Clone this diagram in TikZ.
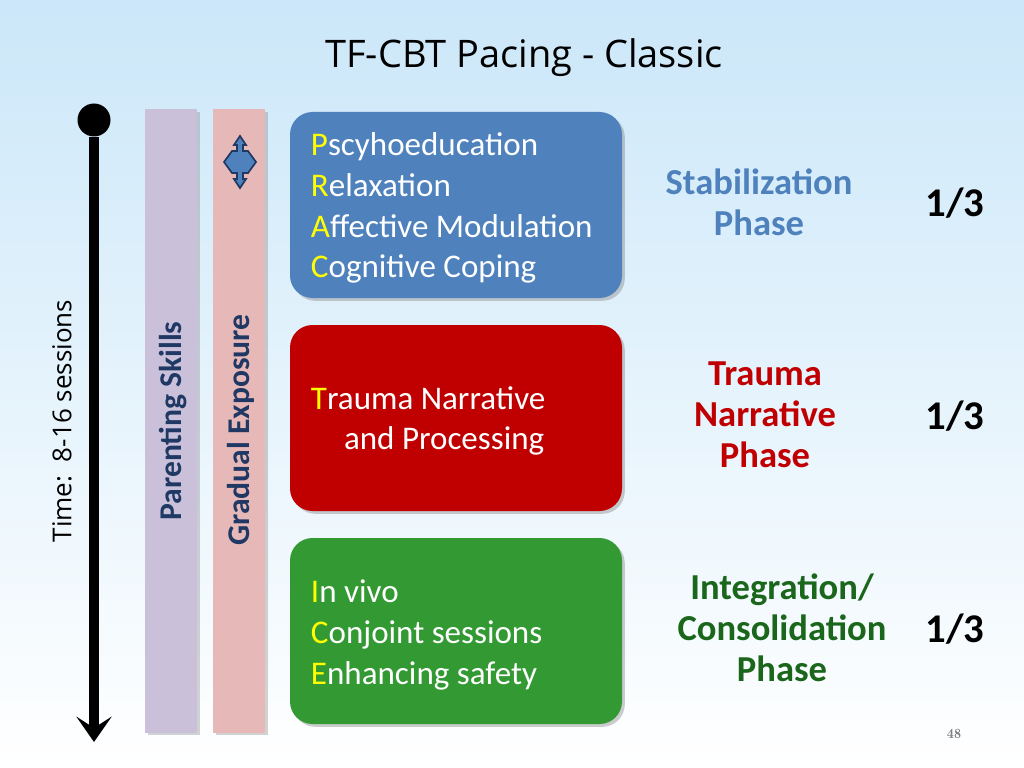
\documentclass[tikz,border=0pt]{standalone}
\usepackage{fontspec}
\setmainfont{Carlito}
\newfontfamily\titlefont{Open Sans}
\usetikzlibrary{arrows.meta,positioning,shadows}
\definecolor{skyblue}{HTML}{CBE7F9}
\definecolor{lilac}{HTML}{CBC0DA}
\definecolor{rose}{HTML}{E6B8B7}
\definecolor{navy}{HTML}{1F3864}
\definecolor{stabblue}{HTML}{4F81BD}
\definecolor{traumared}{HTML}{C00000}
\definecolor{integgreen}{HTML}{339933}
\definecolor{phasegreen}{HTML}{1A661A}
\definecolor{initial}{HTML}{FFFF00}
\tikzset{
	bar/.style={
		rectangle,
		draw=none,
		minimum width=52*0.025cm,
		minimum height=623*0.025cm,
		drop shadow={shadow xshift=2pt,shadow yshift=-2pt,opacity=0.35}
	},
	bartext/.style={
		rotate=90,
		font=\fontsize{22.5}{26}\selectfont\bfseries,
		text=navy
	},
	phasebox/.style={
		rectangle,
		rounded corners=16pt,
		draw=none,
		minimum width=332*0.025cm,
		minimum height=186*0.025cm,
		drop shadow={shadow xshift=2pt,shadow yshift=-2pt,opacity=0.4}
	},
	boxtext/.style={
		anchor=west,
		align=left,
		text=white,
		font=\fontsize{23.5}{29}\selectfont
	},
	phase/.style={
		align=center,
		font=\fontsize{26}{29}\selectfont\bfseries
	},
	share/.style={
		font=\fontsize{29}{32}\selectfont\bfseries
	}
}
\newcommand{\ini}[1]{\textcolor{initial}{#1}}
\begin{document}
\begin{tikzpicture}[x=0.025cm,y=-0.025cm]
% background
\shade[top color=skyblue,bottom color=white] (0,0) rectangle (1024,768);
\useasboundingbox (0,0) rectangle (1024,768);

\node [font=\titlefont\fontsize{27}{32}\selectfont] (title) at (524,58) {TF-CBT Pacing - Classic};

% timeline
\node [circle,fill=black,minimum size=33*0.025cm,inner sep=0pt] (tstart) at (94,120) {};
\coordinate (tend) at (94,742);
\draw [line width=7pt,-{Stealth[length=18pt,width=25pt,inset=8pt]}] (tstart) -- (tend);
\node [rotate=90,font=\titlefont\fontsize{18.5}{22}\selectfont] (time) at (62,421) {Time:\ \ 8-16 sessions};

% side bars
\node [bar,fill=lilac] (parenting) at (171,421) {};
\node [bartext] (parentinglabel) at (173,421) {Parenting Skills};
\node [bar,fill=rose] (exposure) at (239,421) {};
\node [bartext] (exposurelabel) at (241,430) {Gradual Exposure};
\filldraw [fill=stabblue,draw=navy,line width=1.2pt]
	(240,136) -- (246,145) -- (243,145) -- (243,151) -- (248,151) -- (256,162)
	-- (248,173) -- (243,173) -- (243,179) -- (246,179) -- (240,188)
	-- (234,179) -- (237,179) -- (237,173) -- (232,173) -- (224,162)
	-- (232,151) -- (237,151) -- (237,145) -- (234,145) -- cycle;

% phase boxes
\node [phasebox,fill=stabblue] (stabbox) at (456,205) {};
\node [boxtext] (stabtext) at (306,208) {\ini{P}scyhoeducation\\\ini{R}elaxation\\\ini{A}ffective Modulation\\\ini{C}ognitive Coping};
\node [phasebox,fill=traumared] (traumabox) at (456,418) {};
\node [boxtext] (traumatext) at (306,421) {\ini{T}rauma Narrative\\\hspace{1em}and Processing};
\node [phasebox,fill=integgreen] (integbox) at (456,631) {};
\node [boxtext] (integtext) at (306,635) {\ini{I}n vivo\\\ini{C}onjoint sessions\\\ini{E}nhancing safety};

% phase names
\node [phase,text=stabblue] (stabphase) at (759,202) {Stabilization\\Phase};
\node [phase,text=traumared] (traumaphase) at (765,415) {Trauma\\Narrative\\Phase};
\node [phase,text=phasegreen] (integphase) at (782,628) {Integration/\\Consolidation\\Phase};
\node [share] (stabshare) at (955,203) {1/3};
\node [share] (traumashare) at (955,416) {1/3};
\node [share] (integshare) at (955,629) {1/3};

\node [font=\fontfamily{lmr}\selectfont\normalsize\bfseries,text=gray] (page) at (954,734) {48};
\end{tikzpicture}
\end{document}
